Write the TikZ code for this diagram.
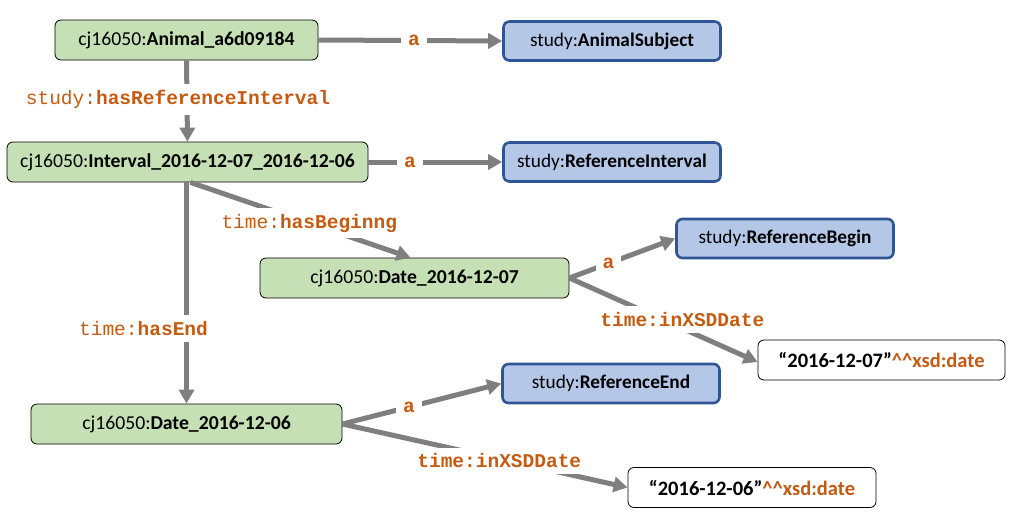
\documentclass[tikz,border=0pt]{standalone}
\usepackage{fontspec}
\setmainfont{Carlito}
\newfontfamily\monof{Liberation Mono}
\usetikzlibrary{arrows.meta}
\definecolor{ngreen}{HTML}{C5E0B4}
\definecolor{nblue}{HTML}{B4C7E7}
\definecolor{bblue}{HTML}{2F5597}
\definecolor{lorange}{HTML}{C55A11}
\definecolor{egray}{HTML}{7F7F7F}
\newcommand{\pfx}[2]{#1\textbf{#2}}
\newcommand{\mlbl}[2]{{\monof #1\textbf{#2}}}
\tikzset{
  inst/.style={draw=black, line width=0.8pt, fill=ngreen, rounded corners=6pt,
    minimum height=40pt, inner sep=0pt, font=\fontsize{19.7}{23}\selectfont},
  cls/.style={draw=bblue, line width=2.6pt, fill=nblue, rounded corners=6pt,
    minimum height=39pt, minimum width=217pt, inner sep=0pt, font=\fontsize{19.3}{23}\selectfont},
  lit/.style={draw=black, line width=0.8pt, fill=white, rounded corners=6pt,
    minimum height=40pt, inner sep=0pt, font=\fontsize{20.5}{24}\selectfont\bfseries},
  edge/.style={draw=egray, line width=5pt, -{Triangle[length=14pt,width=15pt]}},
  lbl/.style={fill=white, text=lorange, inner xsep=7pt, inner ysep=6pt,
    font=\fontsize{19.5}{23}\selectfont\monof},
  blbl/.style={lbl, font=\fontsize{19.5}{23}\selectfont\monof\bfseries},
}
\begin{document}
\begin{tikzpicture}[x=1pt,y=-1pt]
\useasboundingbox (0,0) rectangle (1025,523);
\node[inst, minimum width=263pt] (animal) at (186.5,40) {\pfx{cj16050:}{Animal\_a6d09184}};
\node[cls] (asubj) at (612,41) {\pfx{study:}{AnimalSubject}};
\node[inst, minimum width=361pt] (intv) at (187.5,162) {\pfx{cj16050:}{Interval\_2016-12-07\_2016-12-06}};
\node[cls] (rint) at (612,162) {\pfx{study:}{ReferenceInterval}};
\node[inst, minimum width=309pt] (d07) at (414.5,278) {\pfx{cj16050:}{Date\_2016-12-07}};
\node[cls] (rbeg) at (785,238.5) {\pfx{study:}{ReferenceBegin}};
\node[lit, minimum width=247pt] (l07) at (881.5,360) {“2016-12-07”\textcolor{lorange}{\^{}\^{}xsd:date}};
\node[inst, minimum width=311pt] (d06) at (186.5,424) {\pfx{cj16050:}{Date\_2016-12-06}};
\node[cls] (rend) at (611,383.5) {\pfx{study:}{ReferenceEnd}};
\node[lit, minimum width=248pt] (l06) at (752,487.5) {“2016-12-06”\textcolor{lorange}{\^{}\^{}xsd:date}};

\draw[edge] (animal.east) -- node[blbl,pos=0.52]{a} (asubj.west);
\draw[edge] (animal.south) -- node[lbl,pos=0.48,xshift=-9pt]{\mlbl{study:}{hasReferenceInterval}} (intv.north);
\draw[edge] (intv.east) -- node[blbl,pos=0.31]{a} (rint.west);
\draw[edge] ([xshift=3pt]intv.south) -- node[lbl,pos=0.54]{\mlbl{time:}{hasBeginng}} ([xshift=-4pt]d07.north);
\draw[edge] ([xshift=-1pt]intv.south) -- node[lbl,pos=0.66,xshift=-43pt]{\mlbl{time:}{hasEnd}} (d06.north);
\draw[edge] (d07.east) -- node[blbl,pos=0.37]{a} (rbeg.west);
\draw[edge] (d07.east) -- node[blbl,pos=0.6,yshift=9pt]{time:inXSDDate} ([yshift=-2pt]l07.west);
\draw[edge] (d06.east) -- node[blbl,pos=0.42]{a} (rend.west);
\draw[edge] (d06.east) -- node[blbl,pos=0.55,yshift=-2pt]{time:inXSDDate} (l06.west);
\end{tikzpicture}
\end{document}
